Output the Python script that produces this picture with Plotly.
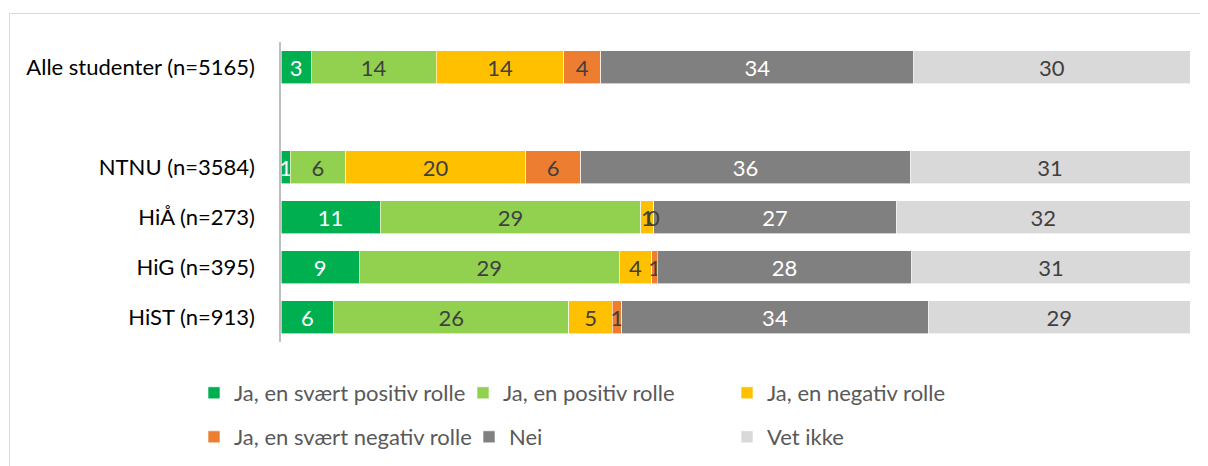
import plotly.graph_objects as go

categories = ["Alle studenter (n=5165)", " ", "NTNU (n=3584)", "HiÅ (n=273)", "HiG (n=395)", "HiST (n=913)"]
series_names = ["Ja, en svært positiv rolle", "Ja, en positiv rolle", "Ja, en negativ rolle",
                "Ja, en svært negativ rolle", "Nei", "Vet ikke"]
# shares in percent (labels show the rounded value)
sv_positiv = [3.3, None, 1.0, 10.9, 8.6, 5.8]
positiv = [13.8, None, 6.1, 28.7, 28.6, 25.9]
negativ = [14.0, None, 19.8, 1.4, 3.6, 4.8]
sv_negativ = [4.1, None, 6.1, 0.0, 0.6, 1.0]
nei = [34.4, None, 36.2, 26.7, 28.0, 33.8]
vet_ikke = [30.4, None, 30.8, 32.3, 30.6, 28.8]
series_values = [sv_positiv, positiv, negativ, sv_negativ, nei, vet_ikke]
colors = ["#00B050", "#92D050", "#FFC000", "#ED7D31", "#808080", "#D9D9D9"]
label_colors = ["#FFFFFF", "#404040", "#404040", "#404040", "#FFFFFF", "#404040"]
legend_ids = ["legend", "legend2", "legend3", "legend4", "legend5", "legend6"]

FONT = "Lato"
FS = 22

def lab(v):
    return "" if v is None else str(int(v + 0.5))

fig = go.Figure()
for name, vals, col, lc, lg in zip(series_names, series_values, colors, label_colors, legend_ids):
    fig.add_trace(go.Bar(
        y=categories, x=vals, name=name, orientation="h",
        marker=dict(color=col, line=dict(color="white", width=0.6)),
        text=[lab(v) for v in vals],
        textposition="inside", insidetextanchor="middle", textangle=0,
        constraintext="none",
        textfont=dict(family=FONT, size=FS, color=lc),
        hoverinfo="x+name", legend=lg, showlegend=True,
    ))

# labels for zero-width segments (drawn at the segment boundary)
annotations = []
for ci, cat in enumerate(categories):
    row = [s[ci] for s in series_values]
    if any(v is None for v in row):
        continue
    total = sum(row)
    cum = 0
    for si, v in enumerate(row):
        if v == 0:
            annotations.append(dict(x=cum / total * 100, y=cat, xref="x", yref="y", text=lab(v),
                                    showarrow=False, xanchor="center", yanchor="middle",
                                    font=dict(family=FONT, size=FS, color=label_colors[si])))
        cum += v

OFF = 8  # page body margin
W, H = 1200, 458
L, R, T, B = 281 - OFF, W - (1190 - OFF), 42 - OFF, H - (342 - OFF)
pw, ph = W - L - R, H - T - B

def px_x(x):
    return (x - OFF - L) / pw

def px_y(y):
    return (H - B - (y - OFF)) / ph

leg_font = dict(family=FONT, size=22, color="#595959")
# screen positions of each legend box's left edge and row centre
leg_pos = [(194, 393), (463, 393), (727, 393), (194, 437), (469, 437), (727, 437)]
legends = {}
for lg, (lx, ty) in zip(legend_ids, leg_pos):
    legends[lg] = dict(orientation="h", x=px_x(lx), y=px_y(ty), xanchor="left", yanchor="middle",
                       font=leg_font, bgcolor="rgba(0,0,0,0)", visible=True)

fig.update_layout(
    width=W, height=H, showlegend=True,
    barmode="stack", barnorm="percent", bargap=0.34,
    margin=dict(l=L, r=R, t=T, b=B, autoexpand=False),
    paper_bgcolor="white", plot_bgcolor="white",
    font=dict(family=FONT, size=FS, color="#000000"),
    uniformtext=dict(minsize=FS, mode="show"),
    xaxis=dict(range=[0, 100], visible=False, fixedrange=True),
    yaxis=dict(categoryorder="array", categoryarray=categories, autorange="reversed",
               showline=True, linecolor="#BFBFBF", linewidth=1.5, ticks="",
               showgrid=False, ticklabelstandoff=20,
               tickfont=dict(family=FONT, size=FS, color="#000000")),
    annotations=annotations,
    shapes=[dict(type="rect", xref="paper", yref="paper",
                 x0=px_x(9.5), x1=px_x(1230), y0=px_y(490), y1=px_y(13.5),
                 line=dict(color="#D9D9D9", width=1), fillcolor="rgba(0,0,0,0)", layer="below")],
    **legends,
)

fig.write_html("out.html")
